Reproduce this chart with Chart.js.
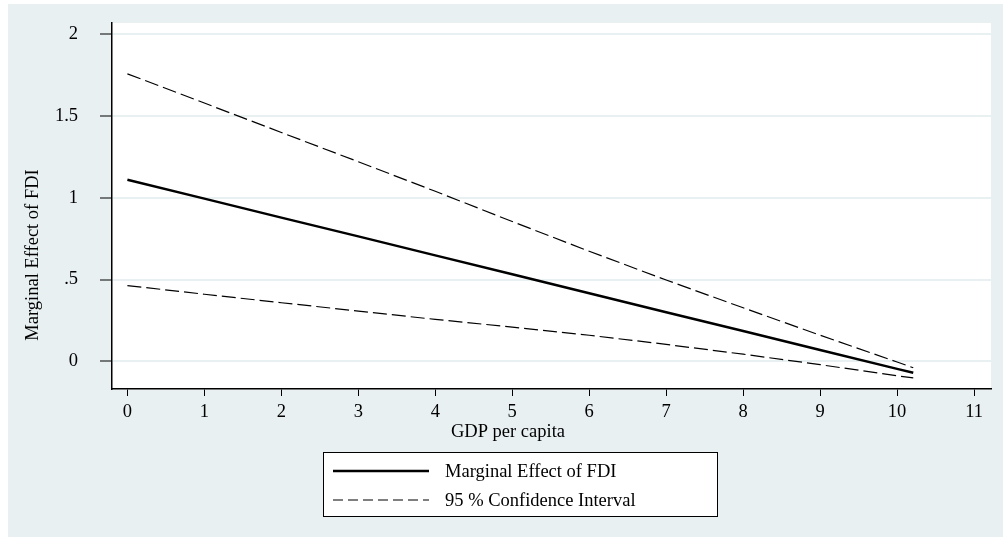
<!DOCTYPE html>
<html lang="en">
<head>
  <meta charset="UTF-8" />
  <title>Marginal Effect of FDI</title>
  <script src="https://cdn.jsdelivr.net/npm/chart.js"></script>
  <style>
    html, body { margin: 0; padding: 0; background: #fff; }
    #wrap { position: relative; width: 1003px; height: 537px; }
  </style>
</head>
<body>
  <div id="wrap">
    <canvas id="graphe"></canvas>
  </div>

<script>
  // values
  const gdp = [0, 1, 2, 3, 4, 5, 6, 7, 8, 9, 10, 10.21];
  const marginal = [1.111, 0.995, 0.879, 0.764, 0.648, 0.532, 0.416, 0.300, 0.185, 0.069, -0.047, -0.071];
  const upperCI = [1.759, 1.580, 1.400, 1.221, 1.040, 0.855, 0.673, 0.497, 0.327, 0.159, -0.005, -0.040];
  const lowerCI = [0.463, 0.410, 0.358, 0.307, 0.256, 0.209, 0.159, 0.103, 0.043, -0.021, -0.089, -0.102];

  const xTicks = [0, 1, 2, 3, 4, 5, 6, 7, 8, 9, 10, 11];
  const yTicks = [0, 0.5, 1, 1.5, 2];
  const yTickLabels = ['0', '.5', '1', '1.5', '2'];

  const legendLabels = ['Marginal Effect of FDI', '95 % Confidence Interval'];
  const xTitle = 'GDP per capita';
  const yTitle = 'Marginal Effect of FDI';

  const FONT = '"Liberation Serif", "Times New Roman", serif';
  const FSIZE = 18.5;
  const BG = '#e8f0f2';

  function pts(ys) {
    return gdp.map((x, i) => ({ x: x, y: ys[i] }));
  }

  // fond gris-bleu + zone blanche du graphe, titres et legende
  const stataLook = {
    id: 'stataLook',
    beforeDraw(chart) {
      const ctx = chart.ctx;
      const a = chart.chartArea;
      ctx.save();
      ctx.fillStyle = '#fff';
      ctx.fillRect(0, 0, chart.width, chart.height);
      ctx.fillStyle = BG;
      ctx.fillRect(8, 4, chart.width - 8, chart.height - 4);
      ctx.fillStyle = '#fff';
      ctx.fillRect(a.left, a.top, a.right - a.left, a.bottom - a.top);
      ctx.restore();
    },
    afterDraw(chart) {
      const ctx = chart.ctx;
      ctx.save();
      ctx.fillStyle = '#000';
      ctx.font = FSIZE + 'px ' + FONT;

      // titre axe x
      ctx.textAlign = 'center';
      ctx.textBaseline = 'alphabetic';
      ctx.fillText(xTitle, 508, 437);

      // titre axe y
      ctx.save();
      ctx.translate(33, 255);
      ctx.rotate(-Math.PI / 2);
      ctx.textAlign = 'center';
      ctx.textBaseline = 'middle';
      ctx.fillText(yTitle, 0, 0);
      ctx.restore();

      // legende
      const lx = 323.5, ly = 452.5, lw = 394, lh = 64;
      ctx.fillStyle = '#fff';
      ctx.fillRect(lx, ly, lw, lh);
      ctx.strokeStyle = '#000';
      ctx.lineWidth = 1;
      ctx.strokeRect(lx, ly, lw, lh);

      const rows = [471, 500];
      const dashes = [[], [10, 5]];
      legendLabels.forEach((lab, i) => {
        const ds = chart.data.datasets[i];
        ctx.beginPath();
        ctx.setLineDash(dashes[i]);
        ctx.lineWidth = ds.borderWidth;
        ctx.strokeStyle = ds.borderColor;
        ctx.moveTo(333, rows[i]);
        ctx.lineTo(429, rows[i]);
        ctx.stroke();
        ctx.setLineDash([]);
        ctx.fillStyle = '#000';
        ctx.textAlign = 'left';
        ctx.textBaseline = 'middle';
        ctx.fillText(lab, 445, rows[i] + 1);
      });
      ctx.restore();
    }
  };

  const ctx = document.getElementById('graphe').getContext('2d');
  const myChart = new Chart(ctx, {
    type: 'line',
    data: {
      datasets: [{
        label: legendLabels[0],
        data: pts(marginal),
        borderColor: '#000',
        borderWidth: 2.5,
        pointRadius: 0,
        tension: 0
      }, {
        label: legendLabels[1],
        data: pts(upperCI),
        borderColor: '#000',
        borderWidth: 1.2,
        borderDash: [14, 5],
        pointRadius: 0,
        tension: 0
      }, {
        label: legendLabels[1],
        data: pts(lowerCI),
        borderColor: '#000',
        borderWidth: 1.2,
        borderDash: [14, 5],
        pointRadius: 0,
        tension: 0
      }]
    },
    options: {
      responsive: true,
      maintainAspectRatio: false,
      animation: false,
      layout: { padding: { left: 0, top: 23, right: 12, bottom: 0 } },
      plugins: {
        legend: { display: false },
        tooltip: { enabled: false }
      },
      scales: {
        x: {
          type: 'linear',
          min: -0.2,
          max: 11.22,
          afterBuildTicks: s => { s.ticks = xTicks.map(v => ({ value: v })); },
          afterFit: s => { s.height = 148; s.paddingLeft = 0; s.paddingRight = 0; },
          ticks: {
            color: '#000',
            font: { family: FONT, size: FSIZE },
            padding: 5,
            maxRotation: 0,
            autoSkip: false,
            callback: v => String(v)
          },
          grid: {
            drawOnChartArea: false,
            tickLength: 7,
            tickColor: '#000',
            tickWidth: 1
          },
          border: { color: '#000', width: 1.5 }
        },
        y: {
          min: -0.17,
          max: 2.07,
          afterBuildTicks: s => { s.ticks = yTicks.map(v => ({ value: v })); },
          afterFit: s => { s.width = 112; s.paddingTop = 0; s.paddingBottom = 0; },
          ticks: {
            color: '#000',
            font: { family: FONT, size: FSIZE },
            padding: 22,
            callback: v => yTickLabels[yTicks.indexOf(v)]
          },
          grid: {
            color: BG,
            lineWidth: 2,
            tickLength: 12,
            tickColor: '#000',
            tickWidth: 1
          },
          border: { color: '#000', width: 1.5 }
        }
      }
    },
    plugins: [stataLook]
  });
</script>
</body>
</html>
